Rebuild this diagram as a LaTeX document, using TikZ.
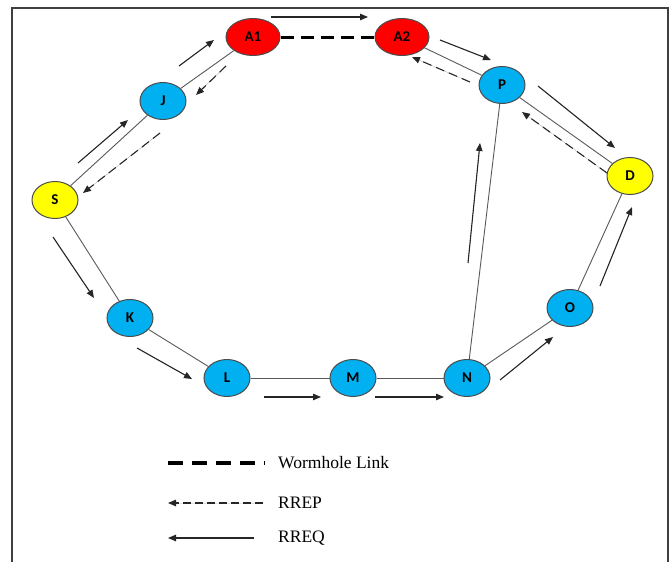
\documentclass[tikz,border=0pt]{standalone}
\usepackage{fontspec}
\setmainfont{Liberation Serif}
\newfontfamily\nodefont{Carlito}
\usetikzlibrary{shapes.geometric,arrows.meta}
\definecolor{nred}{RGB}{255,0,0}
\definecolor{nblue}{RGB}{0,176,240}
\definecolor{nyellow}{RGB}{255,255,0}
\begin{document}
\begin{tikzpicture}[x=1pt,y=-1pt,
  netnode/.style={ellipse, draw=black!70, line width=1pt, minimum width=46pt, minimum height=37pt, inner sep=0pt, font=\nodefont\fontsize{15}{17}\selectfont\bfseries},
  rednode/.style={netnode, fill=nred, minimum width=54pt},
  bluenode/.style={netnode, fill=nblue},
  yellownode/.style={netnode, fill=nyellow},
  link/.style={draw=black!65, line width=0.9pt},
  req/.style={-{Triangle[length=8pt,width=6.5pt]}, line width=1.1pt, draw=black!85, fill=black!85},
  rep/.style={req, dash pattern=on 9pt off 5pt},
  worm/.style={line width=3pt, dash pattern=on 13pt off 7pt},
  legtext/.style={anchor=west, inner sep=0pt, font=\fontsize{17.5}{20}\selectfont},
  frame/.style={draw=black!75, line width=1.5pt}
]
\useasboundingbox (0,0) rectangle (670,562);
\draw[frame] (12,570) -- (12,8) -- (668,8) -- (668,570);

% nodes
\node[rednode] (A1) at (253,37) {A1};
\node[rednode] (A2) at (402,37) {A2};
\node[bluenode] (J) at (163,101) {J};
\node[bluenode] (P) at (502,85) {P};
\node[yellownode] (S) at (55,200) {S};
\node[yellownode] (D) at (630,176) {D};
\node[bluenode] (K) at (130,318) {K};
\node[bluenode] (L) at (227,378) {L};
\node[bluenode] (M) at (353,378) {M};
\node[bluenode] (N) at (467,378) {N};
\node[bluenode] (O) at (570,308) {O};

% links
\draw[link] (S) -- (J);
\draw[link] (J) -- (A1);
\draw[link] (A2) -- (P);
\draw[link] (P) -- (D);
\draw[link] (S) -- (K);
\draw[link] (K) -- (L);
\draw[link] (L) -- (M);
\draw[link] (M) -- (N);
\draw[link] (N) -- (O);
\draw[link] (O) -- (D);
\draw[link] (N) -- (P);
\draw[worm] (A1) -- (A2);

% arrow end points
\coordinate (sj1) at (78,163);   \coordinate (sj2) at (128,120);
\coordinate (js1) at (160,133);  \coordinate (js2) at (83,193);
\coordinate (ja1) at (179,66);   \coordinate (ja2) at (214,40);
\coordinate (aj1) at (226,66);   \coordinate (aj2) at (196,95);
\coordinate (aa1) at (271,17);   \coordinate (aa2) at (368,17);
\coordinate (ap1) at (440,40);   \coordinate (ap2) at (491,60);
\coordinate (pa1) at (470,82);   \coordinate (pa2) at (412,57);
\coordinate (pd1) at (538,86);   \coordinate (pd2) at (615,148);
\coordinate (dp1) at (607,173);  \coordinate (dp2) at (522,112);
\coordinate (np1) at (468,263);  \coordinate (np2) at (480,143);
\coordinate (sk1) at (53,237);   \coordinate (sk2) at (94,298);
\coordinate (kl1) at (137,348);  \coordinate (kl2) at (192,379);
\coordinate (lm1) at (264,397);  \coordinate (lm2) at (321,397);
\coordinate (mn1) at (375,397);  \coordinate (mn2) at (444,397);
\coordinate (no1) at (500,380);  \coordinate (no2) at (553,337);
\coordinate (od1) at (600,286);  \coordinate (od2) at (632,207);

\draw[req] (sj1) -- (sj2);
\draw[rep] (js1) -- (js2);
\draw[req] (ja1) -- (ja2);
\draw[rep] (aj1) -- (aj2);
\draw[req] (aa1) -- (aa2);
\draw[req] (ap1) -- (ap2);
\draw[rep] (pa1) -- (pa2);
\draw[req] (pd1) -- (pd2);
\draw[rep] (dp1) -- (dp2);
\draw[req] (np1) -- (np2);
\draw[req] (sk1) -- (sk2);
\draw[req] (kl1) -- (kl2);
\draw[req] (lm1) -- (lm2);
\draw[req] (mn1) -- (mn2);
\draw[req] (no1) -- (no2);
\draw[req] (od1) -- (od2);

% legend
\coordinate (lw1) at (168,463); \coordinate (lw2) at (265,463);
\coordinate (lp1) at (263,503); \coordinate (lp2) at (168,503);
\coordinate (lq1) at (254,538); \coordinate (lq2) at (168,538);
\draw[line width=3.5pt, dash pattern=on 15pt off 9pt] (lw1) -- (lw2);
\draw[rep, dash pattern=on 8pt off 4pt] (lp1) -- (lp2);
\draw[req] (lq1) -- (lq2);
\node[legtext] (tw) at (278,463) {Wormhole Link};
\node[legtext] (tp) at (278,503) {RREP};
\node[legtext] (tq) at (278,538) {RREQ};
\end{tikzpicture}
\end{document}
